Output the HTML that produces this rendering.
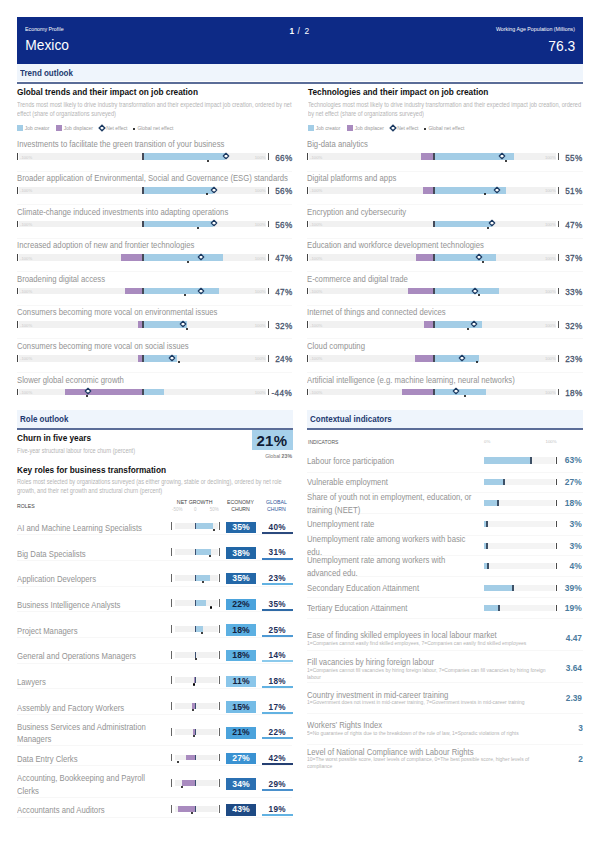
<!DOCTYPE html>
<html><head><meta charset="utf-8"><style>
html,body{margin:0;padding:0;background:#fff;}
body{width:600px;height:848px;position:relative;overflow:hidden;font-family:"Liberation Sans",sans-serif;}
body>div,body>svg{position:absolute;}
.t{white-space:nowrap;line-height:normal;}
</style></head><body>
<div style="left:17.00px;top:170.68px;width:275.00px;height:1.00px;background:#f7f7f7;"></div>
<div style="left:307.00px;top:170.68px;width:276.00px;height:1.00px;background:#f7f7f7;"></div>
<div style="left:17.00px;top:204.21px;width:275.00px;height:1.00px;background:#f7f7f7;"></div>
<div style="left:307.00px;top:204.21px;width:276.00px;height:1.00px;background:#f7f7f7;"></div>
<div style="left:17.00px;top:237.74px;width:275.00px;height:1.00px;background:#f7f7f7;"></div>
<div style="left:307.00px;top:237.74px;width:276.00px;height:1.00px;background:#f7f7f7;"></div>
<div style="left:17.00px;top:271.27px;width:275.00px;height:1.00px;background:#f7f7f7;"></div>
<div style="left:307.00px;top:271.27px;width:276.00px;height:1.00px;background:#f7f7f7;"></div>
<div style="left:17.00px;top:304.80px;width:275.00px;height:1.00px;background:#f7f7f7;"></div>
<div style="left:307.00px;top:304.80px;width:276.00px;height:1.00px;background:#f7f7f7;"></div>
<div style="left:17.00px;top:338.33px;width:275.00px;height:1.00px;background:#f7f7f7;"></div>
<div style="left:307.00px;top:338.33px;width:276.00px;height:1.00px;background:#f7f7f7;"></div>
<div style="left:17.00px;top:371.86px;width:275.00px;height:1.00px;background:#f7f7f7;"></div>
<div style="left:307.00px;top:371.86px;width:276.00px;height:1.00px;background:#f7f7f7;"></div>
<div style="left:17.00px;top:534.20px;width:275.00px;height:1.00px;background:#f7f7f7;"></div>
<div style="left:17.00px;top:559.88px;width:275.00px;height:1.00px;background:#f7f7f7;"></div>
<div style="left:17.00px;top:585.56px;width:275.00px;height:1.00px;background:#f7f7f7;"></div>
<div style="left:17.00px;top:611.24px;width:275.00px;height:1.00px;background:#f7f7f7;"></div>
<div style="left:17.00px;top:636.92px;width:275.00px;height:1.00px;background:#f7f7f7;"></div>
<div style="left:17.00px;top:662.60px;width:275.00px;height:1.00px;background:#f7f7f7;"></div>
<div style="left:17.00px;top:688.28px;width:275.00px;height:1.00px;background:#f7f7f7;"></div>
<div style="left:17.00px;top:713.96px;width:275.00px;height:1.00px;background:#f7f7f7;"></div>
<div style="left:17.00px;top:745.44px;width:275.00px;height:1.00px;background:#f7f7f7;"></div>
<div style="left:17.00px;top:765.32px;width:275.00px;height:1.00px;background:#f7f7f7;"></div>
<div style="left:17.00px;top:796.80px;width:275.00px;height:1.00px;background:#f7f7f7;"></div>
<div style="left:17.00px;top:816.68px;width:275.00px;height:1.00px;background:#f7f7f7;"></div>
<div style="left:307.00px;top:471.80px;width:276.00px;height:1.00px;background:#f7f7f7;"></div>
<div style="left:307.00px;top:492.00px;width:276.00px;height:1.00px;background:#f7f7f7;"></div>
<div style="left:307.00px;top:513.20px;width:276.00px;height:1.00px;background:#f7f7f7;"></div>
<div style="left:307.00px;top:534.50px;width:276.00px;height:1.00px;background:#f7f7f7;"></div>
<div style="left:307.00px;top:555.00px;width:276.00px;height:1.00px;background:#f7f7f7;"></div>
<div style="left:307.00px;top:576.00px;width:276.00px;height:1.00px;background:#f7f7f7;"></div>
<div style="left:307.00px;top:596.50px;width:276.00px;height:1.00px;background:#f7f7f7;"></div>
<div style="left:307.00px;top:617.50px;width:276.00px;height:1.00px;background:#f7f7f7;"></div>
<div style="left:307.00px;top:650.00px;width:276.00px;height:1.00px;background:#f7f7f7;"></div>
<div style="left:307.00px;top:682.40px;width:276.00px;height:1.00px;background:#f7f7f7;"></div>
<div style="left:307.00px;top:713.00px;width:276.00px;height:1.00px;background:#f7f7f7;"></div>
<div style="left:307.00px;top:743.50px;width:276.00px;height:1.00px;background:#f7f7f7;"></div>
<div style="left:17.00px;top:17.00px;width:566.00px;height:47.00px;background:#0d2a86;"></div>
<div class="t" style="left:25.00px;top:25.62px;font-size:5.83px;color:#fff;font-weight:400;transform:scaleX(0.9091);transform-origin:0 0;">Economy Profile</div>
<div class="t" style="left:289.60px;top:26.40px;font-size:8.4px;color:#fff;font-weight:700;">1</div>
<div class="t" style="left:297.40px;top:26.40px;font-size:8.4px;color:#fff;font-weight:400;">/</div>
<div class="t" style="left:304.40px;top:26.40px;font-size:8.4px;color:#fff;font-weight:400;">2</div>
<div class="t" style="right:24.70px;top:25.52px;font-size:5.83px;color:#fff;font-weight:400;transform:scaleX(0.9091);transform-origin:100% 0;">Working Age Population (Millions)</div>
<div class="t" style="left:25.30px;top:38.41px;font-size:13.8px;color:#fff;font-weight:400;">Mexico</div>
<div class="t" style="right:24.70px;top:38.02px;font-size:13.9px;color:#fff;font-weight:400;">76.3</div>
<div style="left:17.00px;top:64.00px;width:566.00px;height:17.00px;background:#eff5fc;"></div>
<div style="left:17.00px;top:82.00px;width:566.00px;height:1.80px;background:#5b6d98;"></div>
<div class="t" style="left:19.90px;top:68.09px;font-size:8.96px;color:#233a70;font-weight:700;transform:scaleX(0.8929);transform-origin:0 0;">Trend outlook</div>
<div class="t" style="left:17.00px;top:88.21px;font-size:8.28px;color:#111;font-weight:700;">Global trends and their impact on job creation</div>
<div class="t" style="left:17.00px;top:101.41px;font-size:6.396px;color:#b5b5b5;font-weight:400;transform:scaleX(0.8850);transform-origin:0 0;">Trends most most likely to drive industry transformation and their expected impact job creation, ordered by net</div>
<div class="t" style="left:17.00px;top:110.21px;font-size:6.396px;color:#b5b5b5;font-weight:400;transform:scaleX(0.8850);transform-origin:0 0;">effect (share of organizations surveyed)</div>
<div style="left:17.00px;top:125.00px;width:6.00px;height:6.10px;background:#a3cde6;"></div>
<div class="t" style="left:24.80px;top:126.12px;font-size:4.95px;color:#9a9a9a;font-weight:400;">Job creator</div>
<div style="left:56.00px;top:125.00px;width:6.00px;height:6.10px;background:#a98bbf;"></div>
<div class="t" style="left:63.80px;top:126.12px;font-size:4.95px;color:#9a9a9a;font-weight:400;">Job displacer</div>
<svg style="position:absolute;left:97.20px;top:123.20px" width="10" height="10"><path d="M5 2.2L7.8 5L5 7.8L2.2 5Z" fill="#fff" stroke="#1c3a62" stroke-width="1.4"/></svg>
<div class="t" style="left:106.30px;top:126.12px;font-size:4.95px;color:#9a9a9a;font-weight:400;">Net effect</div>
<div style="left:133.00px;top:128px;width:1.8px;height:1.8px;border-radius:50%;background:#000"></div>
<div class="t" style="left:137.40px;top:126.12px;font-size:4.95px;color:#9a9a9a;font-weight:400;">Global net effect</div>
<div class="t" style="left:308.00px;top:88.21px;font-size:8.28px;color:#111;font-weight:700;">Technologies and their impact on job creation</div>
<div class="t" style="left:308.00px;top:101.41px;font-size:6.396px;color:#b5b5b5;font-weight:400;transform:scaleX(0.8850);transform-origin:0 0;">Technologies most most likely to drive industry transformation and their expected impact job creation, ordered</div>
<div class="t" style="left:308.00px;top:110.21px;font-size:6.396px;color:#b5b5b5;font-weight:400;transform:scaleX(0.8850);transform-origin:0 0;">by net effect (share of organizations surveyed)</div>
<div style="left:308.00px;top:125.00px;width:6.00px;height:6.10px;background:#a3cde6;"></div>
<div class="t" style="left:315.80px;top:126.12px;font-size:4.95px;color:#9a9a9a;font-weight:400;">Job creator</div>
<div style="left:347.00px;top:125.00px;width:6.00px;height:6.10px;background:#a98bbf;"></div>
<div class="t" style="left:354.80px;top:126.12px;font-size:4.95px;color:#9a9a9a;font-weight:400;">Job displacer</div>
<svg style="position:absolute;left:388.20px;top:123.20px" width="10" height="10"><path d="M5 2.2L7.8 5L5 7.8L2.2 5Z" fill="#fff" stroke="#1c3a62" stroke-width="1.4"/></svg>
<div class="t" style="left:397.30px;top:126.12px;font-size:4.95px;color:#9a9a9a;font-weight:400;">Net effect</div>
<div style="left:424.00px;top:128px;width:1.8px;height:1.8px;border-radius:50%;background:#000"></div>
<div class="t" style="left:428.40px;top:126.12px;font-size:4.95px;color:#9a9a9a;font-weight:400;">Global net effect</div>
<div class="t" style="left:17.20px;top:139.44px;font-size:8.8px;color:#939393;font-weight:400;transform:scaleX(0.878);transform-origin:0 0;">Investments to facilitate the green transition of your business</div>
<div style="left:19.20px;top:153.35px;width:246.50px;height:6.65px;background:#f1f1f1;"></div>
<div class="t" style="left:20.00px;top:154.75px;font-size:4.2px;color:#cbcbcb;font-weight:400;">-100%</div>
<div class="t" style="right:334.50px;top:154.75px;font-size:4.2px;color:#cbcbcb;font-weight:400;">100%</div>
<div style="left:16.80px;top:153.35px;width:1.50px;height:6.65px;background:#444;"></div>
<div style="left:267.70px;top:153.35px;width:1.10px;height:6.65px;background:#555;"></div>
<div style="left:142.60px;top:153.35px;width:82.90px;height:6.65px;background:#a3cde6;"></div>
<div style="left:142.00px;top:153.35px;width:2.00px;height:6.65px;background:#454a58;"></div>
<div style="left:206.80px;top:159.80px;width:2.10px;height:2.10px;background:#000;border-radius:50%;"></div>
<svg style="position:absolute;left:220.80px;top:151.27px" width="10" height="10"><path d="M5 2.3L7.7 5L5 7.7L2.3 5Z" fill="#fff" stroke="#1c3a62" stroke-width="1.25" stroke-linejoin="round"/></svg>
<div class="t" style="right:307.90px;top:152.52px;font-size:9.2px;color:#46536c;font-weight:400;transform:scaleX(0.89);transform-origin:100% 0;letter-spacing:0.4px;-webkit-text-stroke:0.3px #46536c;">66%</div>
<div class="t" style="left:17.20px;top:173.02px;font-size:8.8px;color:#939393;font-weight:400;transform:scaleX(0.878);transform-origin:0 0;">Broader application of Environmental, Social and Governance (ESG) standards</div>
<div style="left:19.20px;top:186.95px;width:246.50px;height:6.65px;background:#f1f1f1;"></div>
<div class="t" style="left:20.00px;top:188.35px;font-size:4.2px;color:#cbcbcb;font-weight:400;">-100%</div>
<div class="t" style="right:334.50px;top:188.35px;font-size:4.2px;color:#cbcbcb;font-weight:400;">100%</div>
<div style="left:16.80px;top:186.95px;width:1.50px;height:6.65px;background:#444;"></div>
<div style="left:267.70px;top:186.95px;width:1.10px;height:6.65px;background:#555;"></div>
<div style="left:142.60px;top:186.95px;width:70.60px;height:6.65px;background:#a3cde6;"></div>
<div style="left:142.00px;top:186.95px;width:2.00px;height:6.65px;background:#454a58;"></div>
<div style="left:205.90px;top:193.40px;width:2.10px;height:2.10px;background:#000;border-radius:50%;"></div>
<svg style="position:absolute;left:208.50px;top:184.87px" width="10" height="10"><path d="M5 2.3L7.7 5L5 7.7L2.3 5Z" fill="#fff" stroke="#1c3a62" stroke-width="1.25" stroke-linejoin="round"/></svg>
<div class="t" style="right:307.90px;top:186.12px;font-size:9.2px;color:#46536c;font-weight:400;transform:scaleX(0.89);transform-origin:100% 0;letter-spacing:0.4px;-webkit-text-stroke:0.3px #46536c;">56%</div>
<div class="t" style="left:17.20px;top:206.60px;font-size:8.8px;color:#939393;font-weight:400;transform:scaleX(0.878);transform-origin:0 0;">Climate-change induced investments into adapting operations</div>
<div style="left:19.20px;top:220.55px;width:246.50px;height:6.65px;background:#f1f1f1;"></div>
<div class="t" style="left:20.00px;top:221.95px;font-size:4.2px;color:#cbcbcb;font-weight:400;">-100%</div>
<div class="t" style="right:334.50px;top:221.95px;font-size:4.2px;color:#cbcbcb;font-weight:400;">100%</div>
<div style="left:16.80px;top:220.55px;width:1.50px;height:6.65px;background:#444;"></div>
<div style="left:267.70px;top:220.55px;width:1.10px;height:6.65px;background:#555;"></div>
<div style="left:142.60px;top:220.55px;width:70.60px;height:6.65px;background:#a3cde6;"></div>
<div style="left:142.00px;top:220.55px;width:2.00px;height:6.65px;background:#454a58;"></div>
<div style="left:196.50px;top:227.00px;width:2.10px;height:2.10px;background:#000;border-radius:50%;"></div>
<svg style="position:absolute;left:208.50px;top:218.47px" width="10" height="10"><path d="M5 2.3L7.7 5L5 7.7L2.3 5Z" fill="#fff" stroke="#1c3a62" stroke-width="1.25" stroke-linejoin="round"/></svg>
<div class="t" style="right:307.90px;top:219.72px;font-size:9.2px;color:#46536c;font-weight:400;transform:scaleX(0.89);transform-origin:100% 0;letter-spacing:0.4px;-webkit-text-stroke:0.3px #46536c;">56%</div>
<div class="t" style="left:17.20px;top:240.18px;font-size:8.8px;color:#939393;font-weight:400;transform:scaleX(0.878);transform-origin:0 0;">Increased adoption of new and frontier technologies</div>
<div style="left:19.20px;top:254.15px;width:246.50px;height:6.65px;background:#f1f1f1;"></div>
<div class="t" style="left:20.00px;top:255.55px;font-size:4.2px;color:#cbcbcb;font-weight:400;">-100%</div>
<div class="t" style="right:334.50px;top:255.55px;font-size:4.2px;color:#cbcbcb;font-weight:400;">100%</div>
<div style="left:16.80px;top:254.15px;width:1.50px;height:6.65px;background:#444;"></div>
<div style="left:267.70px;top:254.15px;width:1.10px;height:6.65px;background:#555;"></div>
<div style="left:121.00px;top:254.15px;width:21.60px;height:6.65px;background:#a98bbf;"></div>
<div style="left:142.60px;top:254.15px;width:80.60px;height:6.65px;background:#a3cde6;"></div>
<div style="left:142.00px;top:254.15px;width:2.00px;height:6.65px;background:#454a58;"></div>
<div style="left:187.20px;top:260.60px;width:2.10px;height:2.10px;background:#000;border-radius:50%;"></div>
<svg style="position:absolute;left:196.30px;top:252.08px" width="10" height="10"><path d="M5 2.3L7.7 5L5 7.7L2.3 5Z" fill="#fff" stroke="#1c3a62" stroke-width="1.25" stroke-linejoin="round"/></svg>
<div class="t" style="right:307.90px;top:253.32px;font-size:9.2px;color:#46536c;font-weight:400;transform:scaleX(0.89);transform-origin:100% 0;letter-spacing:0.4px;-webkit-text-stroke:0.3px #46536c;">47%</div>
<div class="t" style="left:17.20px;top:273.76px;font-size:8.8px;color:#939393;font-weight:400;transform:scaleX(0.878);transform-origin:0 0;">Broadening digital access</div>
<div style="left:19.20px;top:287.75px;width:246.50px;height:6.65px;background:#f1f1f1;"></div>
<div class="t" style="left:20.00px;top:289.15px;font-size:4.2px;color:#cbcbcb;font-weight:400;">-100%</div>
<div class="t" style="right:334.50px;top:289.15px;font-size:4.2px;color:#cbcbcb;font-weight:400;">100%</div>
<div style="left:16.80px;top:287.75px;width:1.50px;height:6.65px;background:#444;"></div>
<div style="left:267.70px;top:287.75px;width:1.10px;height:6.65px;background:#555;"></div>
<div style="left:124.50px;top:287.75px;width:18.10px;height:6.65px;background:#a98bbf;"></div>
<div style="left:142.60px;top:287.75px;width:76.90px;height:6.65px;background:#a3cde6;"></div>
<div style="left:142.00px;top:287.75px;width:2.00px;height:6.65px;background:#454a58;"></div>
<div style="left:184.20px;top:294.20px;width:2.10px;height:2.10px;background:#000;border-radius:50%;"></div>
<svg style="position:absolute;left:196.30px;top:285.68px" width="10" height="10"><path d="M5 2.3L7.7 5L5 7.7L2.3 5Z" fill="#fff" stroke="#1c3a62" stroke-width="1.25" stroke-linejoin="round"/></svg>
<div class="t" style="right:307.90px;top:286.92px;font-size:9.2px;color:#46536c;font-weight:400;transform:scaleX(0.89);transform-origin:100% 0;letter-spacing:0.4px;-webkit-text-stroke:0.3px #46536c;">47%</div>
<div class="t" style="left:17.20px;top:307.34px;font-size:8.8px;color:#939393;font-weight:400;transform:scaleX(0.878);transform-origin:0 0;">Consumers becoming more vocal on environmental issues</div>
<div style="left:19.20px;top:321.35px;width:246.50px;height:6.65px;background:#f1f1f1;"></div>
<div class="t" style="left:20.00px;top:322.75px;font-size:4.2px;color:#cbcbcb;font-weight:400;">-100%</div>
<div class="t" style="right:334.50px;top:322.75px;font-size:4.2px;color:#cbcbcb;font-weight:400;">100%</div>
<div style="left:16.80px;top:321.35px;width:1.50px;height:6.65px;background:#444;"></div>
<div style="left:267.70px;top:321.35px;width:1.10px;height:6.65px;background:#555;"></div>
<div style="left:138.00px;top:321.35px;width:4.60px;height:6.65px;background:#a98bbf;"></div>
<div style="left:142.60px;top:321.35px;width:44.70px;height:6.65px;background:#a3cde6;"></div>
<div style="left:142.00px;top:321.35px;width:2.00px;height:6.65px;background:#454a58;"></div>
<div style="left:185.70px;top:327.80px;width:2.10px;height:2.10px;background:#000;border-radius:50%;"></div>
<svg style="position:absolute;left:178.00px;top:319.28px" width="10" height="10"><path d="M5 2.3L7.7 5L5 7.7L2.3 5Z" fill="#fff" stroke="#1c3a62" stroke-width="1.25" stroke-linejoin="round"/></svg>
<div class="t" style="right:307.90px;top:320.52px;font-size:9.2px;color:#46536c;font-weight:400;transform:scaleX(0.89);transform-origin:100% 0;letter-spacing:0.4px;-webkit-text-stroke:0.3px #46536c;">32%</div>
<div class="t" style="left:17.20px;top:340.92px;font-size:8.8px;color:#939393;font-weight:400;transform:scaleX(0.878);transform-origin:0 0;">Consumers becoming more vocal on social issues</div>
<div style="left:19.20px;top:354.95px;width:246.50px;height:6.65px;background:#f1f1f1;"></div>
<div class="t" style="left:20.00px;top:356.35px;font-size:4.2px;color:#cbcbcb;font-weight:400;">-100%</div>
<div class="t" style="right:334.50px;top:356.35px;font-size:4.2px;color:#cbcbcb;font-weight:400;">100%</div>
<div style="left:16.80px;top:354.95px;width:1.50px;height:6.65px;background:#444;"></div>
<div style="left:267.70px;top:354.95px;width:1.10px;height:6.65px;background:#555;"></div>
<div style="left:137.60px;top:354.95px;width:5.00px;height:6.65px;background:#a98bbf;"></div>
<div style="left:142.60px;top:354.95px;width:34.10px;height:6.65px;background:#a3cde6;"></div>
<div style="left:142.00px;top:354.95px;width:2.00px;height:6.65px;background:#454a58;"></div>
<div style="left:177.70px;top:361.40px;width:2.10px;height:2.10px;background:#000;border-radius:50%;"></div>
<svg style="position:absolute;left:167.30px;top:352.88px" width="10" height="10"><path d="M5 2.3L7.7 5L5 7.7L2.3 5Z" fill="#fff" stroke="#1c3a62" stroke-width="1.25" stroke-linejoin="round"/></svg>
<div class="t" style="right:307.90px;top:354.12px;font-size:9.2px;color:#46536c;font-weight:400;transform:scaleX(0.89);transform-origin:100% 0;letter-spacing:0.4px;-webkit-text-stroke:0.3px #46536c;">24%</div>
<div class="t" style="left:17.20px;top:374.50px;font-size:8.8px;color:#939393;font-weight:400;transform:scaleX(0.878);transform-origin:0 0;">Slower global economic growth</div>
<div style="left:19.20px;top:388.55px;width:246.50px;height:6.65px;background:#f1f1f1;"></div>
<div class="t" style="left:20.00px;top:389.95px;font-size:4.2px;color:#cbcbcb;font-weight:400;">-100%</div>
<div class="t" style="right:334.50px;top:389.95px;font-size:4.2px;color:#cbcbcb;font-weight:400;">100%</div>
<div style="left:16.80px;top:388.55px;width:1.50px;height:6.65px;background:#444;"></div>
<div style="left:267.70px;top:388.55px;width:1.10px;height:6.65px;background:#555;"></div>
<div style="left:65.20px;top:388.55px;width:77.40px;height:6.65px;background:#a98bbf;"></div>
<div style="left:142.60px;top:388.55px;width:21.80px;height:6.65px;background:#a3cde6;"></div>
<div style="left:142.00px;top:388.55px;width:2.00px;height:6.65px;background:#454a58;"></div>
<div style="left:86.30px;top:395.00px;width:2.10px;height:2.10px;background:#000;border-radius:50%;"></div>
<svg style="position:absolute;left:82.60px;top:386.48px" width="10" height="10"><path d="M5 2.3L7.7 5L5 7.7L2.3 5Z" fill="#fff" stroke="#1c3a62" stroke-width="1.25" stroke-linejoin="round"/></svg>
<div class="t" style="right:307.90px;top:387.72px;font-size:9.2px;color:#46536c;font-weight:400;transform:scaleX(0.89);transform-origin:100% 0;letter-spacing:0.4px;-webkit-text-stroke:0.3px #46536c;">-44%</div>
<div class="t" style="left:307.30px;top:139.44px;font-size:8.8px;color:#939393;font-weight:400;transform:scaleX(0.878);transform-origin:0 0;">Big-data analytics</div>
<div style="left:309.30px;top:153.35px;width:246.50px;height:6.65px;background:#f1f1f1;"></div>
<div class="t" style="left:310.10px;top:154.75px;font-size:4.2px;color:#cbcbcb;font-weight:400;">-100%</div>
<div class="t" style="right:44.40px;top:154.75px;font-size:4.2px;color:#cbcbcb;font-weight:400;">100%</div>
<div style="left:306.90px;top:153.35px;width:1.50px;height:6.65px;background:#444;"></div>
<div style="left:557.80px;top:153.35px;width:1.10px;height:6.65px;background:#555;"></div>
<div style="left:421.00px;top:153.35px;width:12.20px;height:6.65px;background:#a98bbf;"></div>
<div style="left:433.20px;top:153.35px;width:80.40px;height:6.65px;background:#a3cde6;"></div>
<div style="left:432.60px;top:153.35px;width:2.00px;height:6.65px;background:#454a58;"></div>
<div style="left:505.20px;top:159.80px;width:2.10px;height:2.10px;background:#000;border-radius:50%;"></div>
<svg style="position:absolute;left:496.80px;top:151.27px" width="10" height="10"><path d="M5 2.3L7.7 5L5 7.7L2.3 5Z" fill="#fff" stroke="#1c3a62" stroke-width="1.25" stroke-linejoin="round"/></svg>
<div class="t" style="right:17.10px;top:152.52px;font-size:9.2px;color:#46536c;font-weight:400;transform:scaleX(0.89);transform-origin:100% 0;letter-spacing:0.4px;-webkit-text-stroke:0.3px #46536c;">55%</div>
<div class="t" style="left:307.30px;top:173.02px;font-size:8.8px;color:#939393;font-weight:400;transform:scaleX(0.878);transform-origin:0 0;">Digital platforms and apps</div>
<div style="left:309.30px;top:186.95px;width:246.50px;height:6.65px;background:#f1f1f1;"></div>
<div class="t" style="left:310.10px;top:188.35px;font-size:4.2px;color:#cbcbcb;font-weight:400;">-100%</div>
<div class="t" style="right:44.40px;top:188.35px;font-size:4.2px;color:#cbcbcb;font-weight:400;">100%</div>
<div style="left:306.90px;top:186.95px;width:1.50px;height:6.65px;background:#444;"></div>
<div style="left:557.80px;top:186.95px;width:1.10px;height:6.65px;background:#555;"></div>
<div style="left:423.30px;top:186.95px;width:9.90px;height:6.65px;background:#a98bbf;"></div>
<div style="left:433.20px;top:186.95px;width:73.00px;height:6.65px;background:#a3cde6;"></div>
<div style="left:432.60px;top:186.95px;width:2.00px;height:6.65px;background:#454a58;"></div>
<div style="left:483.50px;top:193.40px;width:2.10px;height:2.10px;background:#000;border-radius:50%;"></div>
<svg style="position:absolute;left:491.70px;top:184.87px" width="10" height="10"><path d="M5 2.3L7.7 5L5 7.7L2.3 5Z" fill="#fff" stroke="#1c3a62" stroke-width="1.25" stroke-linejoin="round"/></svg>
<div class="t" style="right:17.10px;top:186.12px;font-size:9.2px;color:#46536c;font-weight:400;transform:scaleX(0.89);transform-origin:100% 0;letter-spacing:0.4px;-webkit-text-stroke:0.3px #46536c;">51%</div>
<div class="t" style="left:307.30px;top:206.60px;font-size:8.8px;color:#939393;font-weight:400;transform:scaleX(0.878);transform-origin:0 0;">Encryption and cybersecurity</div>
<div style="left:309.30px;top:220.55px;width:246.50px;height:6.65px;background:#f1f1f1;"></div>
<div class="t" style="left:310.10px;top:221.95px;font-size:4.2px;color:#cbcbcb;font-weight:400;">-100%</div>
<div class="t" style="right:44.40px;top:221.95px;font-size:4.2px;color:#cbcbcb;font-weight:400;">100%</div>
<div style="left:306.90px;top:220.55px;width:1.50px;height:6.65px;background:#444;"></div>
<div style="left:557.80px;top:220.55px;width:1.10px;height:6.65px;background:#555;"></div>
<div style="left:433.20px;top:220.55px;width:58.50px;height:6.65px;background:#a3cde6;"></div>
<div style="left:432.60px;top:220.55px;width:2.00px;height:6.65px;background:#454a58;"></div>
<div style="left:486.50px;top:227.00px;width:2.10px;height:2.10px;background:#000;border-radius:50%;"></div>
<svg style="position:absolute;left:487.00px;top:218.47px" width="10" height="10"><path d="M5 2.3L7.7 5L5 7.7L2.3 5Z" fill="#fff" stroke="#1c3a62" stroke-width="1.25" stroke-linejoin="round"/></svg>
<div class="t" style="right:17.10px;top:219.72px;font-size:9.2px;color:#46536c;font-weight:400;transform:scaleX(0.89);transform-origin:100% 0;letter-spacing:0.4px;-webkit-text-stroke:0.3px #46536c;">47%</div>
<div class="t" style="left:307.30px;top:240.18px;font-size:8.8px;color:#939393;font-weight:400;transform:scaleX(0.878);transform-origin:0 0;">Education and workforce development technologies</div>
<div style="left:309.30px;top:254.15px;width:246.50px;height:6.65px;background:#f1f1f1;"></div>
<div class="t" style="left:310.10px;top:255.55px;font-size:4.2px;color:#cbcbcb;font-weight:400;">-100%</div>
<div class="t" style="right:44.40px;top:255.55px;font-size:4.2px;color:#cbcbcb;font-weight:400;">100%</div>
<div style="left:306.90px;top:254.15px;width:1.50px;height:6.65px;background:#444;"></div>
<div style="left:557.80px;top:254.15px;width:1.10px;height:6.65px;background:#555;"></div>
<div style="left:415.90px;top:254.15px;width:17.30px;height:6.65px;background:#a98bbf;"></div>
<div style="left:433.20px;top:254.15px;width:62.90px;height:6.65px;background:#a3cde6;"></div>
<div style="left:432.60px;top:254.15px;width:2.00px;height:6.65px;background:#454a58;"></div>
<div style="left:481.80px;top:260.60px;width:2.10px;height:2.10px;background:#000;border-radius:50%;"></div>
<svg style="position:absolute;left:474.20px;top:252.08px" width="10" height="10"><path d="M5 2.3L7.7 5L5 7.7L2.3 5Z" fill="#fff" stroke="#1c3a62" stroke-width="1.25" stroke-linejoin="round"/></svg>
<div class="t" style="right:17.10px;top:253.32px;font-size:9.2px;color:#46536c;font-weight:400;transform:scaleX(0.89);transform-origin:100% 0;letter-spacing:0.4px;-webkit-text-stroke:0.3px #46536c;">37%</div>
<div class="t" style="left:307.30px;top:273.76px;font-size:8.8px;color:#939393;font-weight:400;transform:scaleX(0.878);transform-origin:0 0;">E-commerce and digital trade</div>
<div style="left:309.30px;top:287.75px;width:246.50px;height:6.65px;background:#f1f1f1;"></div>
<div class="t" style="left:310.10px;top:289.15px;font-size:4.2px;color:#cbcbcb;font-weight:400;">-100%</div>
<div class="t" style="right:44.40px;top:289.15px;font-size:4.2px;color:#cbcbcb;font-weight:400;">100%</div>
<div style="left:306.90px;top:287.75px;width:1.50px;height:6.65px;background:#444;"></div>
<div style="left:557.80px;top:287.75px;width:1.10px;height:6.65px;background:#555;"></div>
<div style="left:408.20px;top:287.75px;width:25.00px;height:6.65px;background:#a98bbf;"></div>
<div style="left:433.20px;top:287.75px;width:66.00px;height:6.65px;background:#a3cde6;"></div>
<div style="left:432.60px;top:287.75px;width:2.00px;height:6.65px;background:#454a58;"></div>
<div style="left:477.90px;top:294.20px;width:2.10px;height:2.10px;background:#000;border-radius:50%;"></div>
<svg style="position:absolute;left:469.50px;top:285.68px" width="10" height="10"><path d="M5 2.3L7.7 5L5 7.7L2.3 5Z" fill="#fff" stroke="#1c3a62" stroke-width="1.25" stroke-linejoin="round"/></svg>
<div class="t" style="right:17.10px;top:286.92px;font-size:9.2px;color:#46536c;font-weight:400;transform:scaleX(0.89);transform-origin:100% 0;letter-spacing:0.4px;-webkit-text-stroke:0.3px #46536c;">33%</div>
<div class="t" style="left:307.30px;top:307.34px;font-size:8.8px;color:#939393;font-weight:400;transform:scaleX(0.878);transform-origin:0 0;">Internet of things and connected devices</div>
<div style="left:309.30px;top:321.35px;width:246.50px;height:6.65px;background:#f1f1f1;"></div>
<div class="t" style="left:310.10px;top:322.75px;font-size:4.2px;color:#cbcbcb;font-weight:400;">-100%</div>
<div class="t" style="right:44.40px;top:322.75px;font-size:4.2px;color:#cbcbcb;font-weight:400;">100%</div>
<div style="left:306.90px;top:321.35px;width:1.50px;height:6.65px;background:#444;"></div>
<div style="left:557.80px;top:321.35px;width:1.10px;height:6.65px;background:#555;"></div>
<div style="left:424.00px;top:321.35px;width:9.20px;height:6.65px;background:#a98bbf;"></div>
<div style="left:433.20px;top:321.35px;width:48.90px;height:6.65px;background:#a3cde6;"></div>
<div style="left:432.60px;top:321.35px;width:2.00px;height:6.65px;background:#454a58;"></div>
<div style="left:467.10px;top:327.80px;width:2.10px;height:2.10px;background:#000;border-radius:50%;"></div>
<svg style="position:absolute;left:468.80px;top:319.28px" width="10" height="10"><path d="M5 2.3L7.7 5L5 7.7L2.3 5Z" fill="#fff" stroke="#1c3a62" stroke-width="1.25" stroke-linejoin="round"/></svg>
<div class="t" style="right:17.10px;top:320.52px;font-size:9.2px;color:#46536c;font-weight:400;transform:scaleX(0.89);transform-origin:100% 0;letter-spacing:0.4px;-webkit-text-stroke:0.3px #46536c;">32%</div>
<div class="t" style="left:307.30px;top:340.92px;font-size:8.8px;color:#939393;font-weight:400;transform:scaleX(0.878);transform-origin:0 0;">Cloud computing</div>
<div style="left:309.30px;top:354.95px;width:246.50px;height:6.65px;background:#f1f1f1;"></div>
<div class="t" style="left:310.10px;top:356.35px;font-size:4.2px;color:#cbcbcb;font-weight:400;">-100%</div>
<div class="t" style="right:44.40px;top:356.35px;font-size:4.2px;color:#cbcbcb;font-weight:400;">100%</div>
<div style="left:306.90px;top:354.95px;width:1.50px;height:6.65px;background:#444;"></div>
<div style="left:557.80px;top:354.95px;width:1.10px;height:6.65px;background:#555;"></div>
<div style="left:415.20px;top:354.95px;width:18.00px;height:6.65px;background:#a98bbf;"></div>
<div style="left:433.20px;top:354.95px;width:46.20px;height:6.65px;background:#a3cde6;"></div>
<div style="left:432.60px;top:354.95px;width:2.00px;height:6.65px;background:#454a58;"></div>
<div style="left:475.80px;top:361.40px;width:2.10px;height:2.10px;background:#000;border-radius:50%;"></div>
<svg style="position:absolute;left:457.20px;top:352.88px" width="10" height="10"><path d="M5 2.3L7.7 5L5 7.7L2.3 5Z" fill="#fff" stroke="#1c3a62" stroke-width="1.25" stroke-linejoin="round"/></svg>
<div class="t" style="right:17.10px;top:354.12px;font-size:9.2px;color:#46536c;font-weight:400;transform:scaleX(0.89);transform-origin:100% 0;letter-spacing:0.4px;-webkit-text-stroke:0.3px #46536c;">23%</div>
<div class="t" style="left:307.30px;top:374.50px;font-size:8.8px;color:#939393;font-weight:400;transform:scaleX(0.878);transform-origin:0 0;">Artificial intelligence (e.g. machine learning, neural networks)</div>
<div style="left:309.30px;top:388.55px;width:246.50px;height:6.65px;background:#f1f1f1;"></div>
<div class="t" style="left:310.10px;top:389.95px;font-size:4.2px;color:#cbcbcb;font-weight:400;">-100%</div>
<div class="t" style="right:44.40px;top:389.95px;font-size:4.2px;color:#cbcbcb;font-weight:400;">100%</div>
<div style="left:306.90px;top:388.55px;width:1.50px;height:6.65px;background:#444;"></div>
<div style="left:557.80px;top:388.55px;width:1.10px;height:6.65px;background:#555;"></div>
<div style="left:401.70px;top:388.55px;width:31.50px;height:6.65px;background:#a98bbf;"></div>
<div style="left:433.20px;top:388.55px;width:52.90px;height:6.65px;background:#a3cde6;"></div>
<div style="left:432.60px;top:388.55px;width:2.00px;height:6.65px;background:#454a58;"></div>
<div style="left:464.10px;top:395.00px;width:2.10px;height:2.10px;background:#000;border-radius:50%;"></div>
<svg style="position:absolute;left:450.60px;top:386.48px" width="10" height="10"><path d="M5 2.3L7.7 5L5 7.7L2.3 5Z" fill="#fff" stroke="#1c3a62" stroke-width="1.25" stroke-linejoin="round"/></svg>
<div class="t" style="right:17.10px;top:387.72px;font-size:9.2px;color:#46536c;font-weight:400;transform:scaleX(0.89);transform-origin:100% 0;letter-spacing:0.4px;-webkit-text-stroke:0.3px #46536c;">18%</div>
<div style="left:17.00px;top:410.00px;width:275.50px;height:17.50px;background:#eff5fc;"></div>
<div style="left:17.00px;top:428.00px;width:275.50px;height:1.60px;background:#5b6d98;"></div>
<div class="t" style="left:19.90px;top:414.09px;font-size:8.96px;color:#233a70;font-weight:700;transform:scaleX(0.8929);transform-origin:0 0;">Role outlook</div>
<div style="left:307.00px;top:410.00px;width:276.00px;height:17.50px;background:#eff5fc;"></div>
<div style="left:307.00px;top:428.00px;width:276.00px;height:1.60px;background:#5b6d98;"></div>
<div class="t" style="left:310.20px;top:414.09px;font-size:8.96px;color:#233a70;font-weight:700;transform:scaleX(0.8929);transform-origin:0 0;">Contextual indicators</div>
<div class="t" style="left:17.00px;top:433.75px;font-size:8.23px;color:#111;font-weight:700;">Churn in five years</div>
<div class="t" style="left:17.00px;top:447.28px;font-size:6.317px;color:#b5b5b5;font-weight:400;transform:scaleX(0.8850);transform-origin:0 0;">Five-year structural labour force churn (percent)</div>
<div style="left:251.50px;top:429.50px;width:41.00px;height:20.50px;background:#a6d0ea;"></div>
<div class="t" style="left:271.90px;top:431.73px;font-size:15px;color:#0f1b36;font-weight:700;transform:translateX(-50%);transform-origin:0 0;letter-spacing:0.2px;">21%</div>
<div class="t" style="right:308.00px;top:453.09px;font-size:5.2px;color:#777;font-weight:400;">Global <b>23%</b></div>
<div class="t" style="left:17.00px;top:465.73px;font-size:8.25px;color:#111;font-weight:700;">Key roles for business transformation</div>
<div class="t" style="left:17.00px;top:478.03px;font-size:6.373px;color:#b5b5b5;font-weight:400;transform:scaleX(0.8850);transform-origin:0 0;">Roles most selected by organizations surveyed (as either growing, stable or declining), ordered by net role</div>
<div class="t" style="left:17.00px;top:487.43px;font-size:6.373px;color:#b5b5b5;font-weight:400;transform:scaleX(0.8850);transform-origin:0 0;">growth, and their net growth and structural churn (percent)</div>
<div class="t" style="left:17.00px;top:503.29px;font-size:5.2px;color:#444;font-weight:400;">ROLES</div>
<div class="t" style="left:194.70px;top:498.86px;font-size:5.24px;color:#444;font-weight:400;transform:translateX(-50%);transform-origin:0 0;">NET GROWTH</div>
<div class="t" style="left:177.30px;top:506.93px;font-size:4.5px;color:#c8c8c8;font-weight:400;transform:translateX(-50%);transform-origin:0 0;">-50%</div>
<div class="t" style="left:195.30px;top:506.93px;font-size:4.5px;color:#c8c8c8;font-weight:400;transform:translateX(-50%);transform-origin:0 0;">0</div>
<div class="t" style="left:214.20px;top:506.93px;font-size:4.5px;color:#c8c8c8;font-weight:400;transform:translateX(-50%);transform-origin:0 0;">50%</div>
<div class="t" style="left:240.50px;top:498.89px;font-size:5.2px;color:#444;font-weight:400;transform:translateX(-50%);transform-origin:0 0;">ECONOMY</div>
<div class="t" style="left:240.50px;top:506.29px;font-size:5.2px;color:#444;font-weight:400;transform:translateX(-50%);transform-origin:0 0;">CHURN</div>
<div class="t" style="left:276.40px;top:498.89px;font-size:5.2px;color:#2d559a;font-weight:400;transform:translateX(-50%);transform-origin:0 0;">GLOBAL</div>
<div class="t" style="left:276.40px;top:506.29px;font-size:5.2px;color:#2d559a;font-weight:400;transform:translateX(-50%);transform-origin:0 0;">CHURN</div>
<div class="t" style="left:17.00px;top:522.94px;font-size:8.8px;color:#939393;font-weight:400;transform:scaleX(0.878);transform-origin:0 0;">AI and Machine Learning Specialists</div>
<div style="left:174.50px;top:523.40px;width:43.00px;height:5.80px;background:#f1f1f1;"></div>
<div style="left:171.20px;top:522.40px;width:1.10px;height:7.80px;background:#666;"></div>
<div style="left:219.00px;top:522.40px;width:1.10px;height:7.80px;background:#666;"></div>
<div style="left:195.50px;top:523.40px;width:17.70px;height:5.80px;background:#a3cde6;"></div>
<div style="left:194.90px;top:523.40px;width:1.30px;height:5.80px;background:#3a4f70;"></div>
<div style="left:213.40px;top:529.40px;width:2.10px;height:2.10px;background:#000;border-radius:50%;"></div>
<div style="left:226.00px;top:521.50px;width:30.20px;height:11.60px;background:#2468a8;"></div>
<div class="t" style="left:241.10px;top:521.82px;font-size:8.6px;color:#fff;font-weight:700;transform:translateX(-50%);transform-origin:0 0;letter-spacing:0.15px;">35%</div>
<div class="t" style="left:277.20px;top:522.78px;font-size:8.2px;color:#22305a;font-weight:700;transform:translateX(-50%);transform-origin:0 0;letter-spacing:0.25px;">40%</div>
<div style="left:262.00px;top:532.00px;width:30.50px;height:1.90px;background:#2b4a7e;"></div>
<div class="t" style="left:17.00px;top:548.62px;font-size:8.8px;color:#939393;font-weight:400;transform:scaleX(0.878);transform-origin:0 0;">Big Data Specialists</div>
<div style="left:174.50px;top:549.08px;width:43.00px;height:5.80px;background:#f1f1f1;"></div>
<div style="left:171.20px;top:548.08px;width:1.10px;height:7.80px;background:#666;"></div>
<div style="left:219.00px;top:548.08px;width:1.10px;height:7.80px;background:#666;"></div>
<div style="left:195.50px;top:549.08px;width:15.40px;height:5.80px;background:#a3cde6;"></div>
<div style="left:194.90px;top:549.08px;width:1.30px;height:5.80px;background:#3a4f70;"></div>
<div style="left:208.70px;top:555.08px;width:2.10px;height:2.10px;background:#000;border-radius:50%;"></div>
<div style="left:226.00px;top:547.18px;width:30.20px;height:11.60px;background:#2166a6;"></div>
<div class="t" style="left:241.10px;top:547.50px;font-size:8.6px;color:#fff;font-weight:700;transform:translateX(-50%);transform-origin:0 0;letter-spacing:0.15px;">38%</div>
<div class="t" style="left:277.20px;top:548.46px;font-size:8.2px;color:#22305a;font-weight:700;transform:translateX(-50%);transform-origin:0 0;letter-spacing:0.25px;">31%</div>
<div style="left:262.00px;top:557.68px;width:30.50px;height:1.90px;background:#3b7ec0;"></div>
<div class="t" style="left:17.00px;top:574.30px;font-size:8.8px;color:#939393;font-weight:400;transform:scaleX(0.878);transform-origin:0 0;">Application Developers</div>
<div style="left:174.50px;top:574.76px;width:43.00px;height:5.80px;background:#f1f1f1;"></div>
<div style="left:171.20px;top:573.76px;width:1.10px;height:7.80px;background:#666;"></div>
<div style="left:219.00px;top:573.76px;width:1.10px;height:7.80px;background:#666;"></div>
<div style="left:195.50px;top:574.76px;width:14.20px;height:5.80px;background:#a3cde6;"></div>
<div style="left:194.90px;top:574.76px;width:1.30px;height:5.80px;background:#3a4f70;"></div>
<div style="left:201.70px;top:580.76px;width:2.10px;height:2.10px;background:#000;border-radius:50%;"></div>
<div style="left:226.00px;top:572.86px;width:30.20px;height:11.60px;background:#2468a8;"></div>
<div class="t" style="left:241.10px;top:573.18px;font-size:8.6px;color:#fff;font-weight:700;transform:translateX(-50%);transform-origin:0 0;letter-spacing:0.15px;">35%</div>
<div class="t" style="left:277.20px;top:574.14px;font-size:8.2px;color:#22305a;font-weight:700;transform:translateX(-50%);transform-origin:0 0;letter-spacing:0.25px;">23%</div>
<div style="left:262.00px;top:583.36px;width:30.50px;height:1.90px;background:#62b2e2;"></div>
<div class="t" style="left:17.00px;top:599.98px;font-size:8.8px;color:#939393;font-weight:400;transform:scaleX(0.878);transform-origin:0 0;">Business Intelligence Analysts</div>
<div style="left:174.50px;top:600.44px;width:43.00px;height:5.80px;background:#f1f1f1;"></div>
<div style="left:171.20px;top:599.44px;width:1.10px;height:7.80px;background:#666;"></div>
<div style="left:219.00px;top:599.44px;width:1.10px;height:7.80px;background:#666;"></div>
<div style="left:195.50px;top:600.44px;width:10.70px;height:5.80px;background:#a3cde6;"></div>
<div style="left:194.90px;top:600.44px;width:1.30px;height:5.80px;background:#3a4f70;"></div>
<div style="left:209.90px;top:606.44px;width:2.10px;height:2.10px;background:#000;border-radius:50%;"></div>
<div style="left:226.00px;top:598.54px;width:30.20px;height:11.60px;background:#4ba3dc;"></div>
<div class="t" style="left:241.10px;top:598.86px;font-size:8.6px;color:#14213d;font-weight:700;transform:translateX(-50%);transform-origin:0 0;letter-spacing:0.15px;">22%</div>
<div class="t" style="left:277.20px;top:599.82px;font-size:8.2px;color:#22305a;font-weight:700;transform:translateX(-50%);transform-origin:0 0;letter-spacing:0.25px;">35%</div>
<div style="left:262.00px;top:609.04px;width:30.50px;height:1.90px;background:#2f6aa6;"></div>
<div class="t" style="left:17.00px;top:625.66px;font-size:8.8px;color:#939393;font-weight:400;transform:scaleX(0.878);transform-origin:0 0;">Project Managers</div>
<div style="left:174.50px;top:626.12px;width:43.00px;height:5.80px;background:#f1f1f1;"></div>
<div style="left:171.20px;top:625.12px;width:1.10px;height:7.80px;background:#666;"></div>
<div style="left:219.00px;top:625.12px;width:1.10px;height:7.80px;background:#666;"></div>
<div style="left:195.50px;top:626.12px;width:7.20px;height:5.80px;background:#a3cde6;"></div>
<div style="left:194.90px;top:626.12px;width:1.30px;height:5.80px;background:#3a4f70;"></div>
<div style="left:201.00px;top:632.12px;width:2.10px;height:2.10px;background:#000;border-radius:50%;"></div>
<div style="left:226.00px;top:624.22px;width:30.20px;height:11.60px;background:#5cb0e2;"></div>
<div class="t" style="left:241.10px;top:624.54px;font-size:8.6px;color:#14213d;font-weight:700;transform:translateX(-50%);transform-origin:0 0;letter-spacing:0.15px;">18%</div>
<div class="t" style="left:277.20px;top:625.50px;font-size:8.2px;color:#22305a;font-weight:700;transform:translateX(-50%);transform-origin:0 0;letter-spacing:0.25px;">25%</div>
<div style="left:262.00px;top:634.72px;width:30.50px;height:1.90px;background:#4f9ad4;"></div>
<div class="t" style="left:17.00px;top:651.34px;font-size:8.8px;color:#939393;font-weight:400;transform:scaleX(0.878);transform-origin:0 0;">General and Operations Managers</div>
<div style="left:174.50px;top:651.80px;width:43.00px;height:5.80px;background:#f1f1f1;"></div>
<div style="left:171.20px;top:650.80px;width:1.10px;height:7.80px;background:#666;"></div>
<div style="left:219.00px;top:650.80px;width:1.10px;height:7.80px;background:#666;"></div>
<div style="left:194.90px;top:651.80px;width:1.30px;height:5.80px;background:#3a4f70;"></div>
<div style="left:194.50px;top:657.80px;width:2.10px;height:2.10px;background:#000;border-radius:50%;"></div>
<div style="left:226.00px;top:649.90px;width:30.20px;height:11.60px;background:#5cb0e2;"></div>
<div class="t" style="left:241.10px;top:650.22px;font-size:8.6px;color:#14213d;font-weight:700;transform:translateX(-50%);transform-origin:0 0;letter-spacing:0.15px;">18%</div>
<div class="t" style="left:277.20px;top:651.18px;font-size:8.2px;color:#22305a;font-weight:700;transform:translateX(-50%);transform-origin:0 0;letter-spacing:0.25px;">14%</div>
<div style="left:262.00px;top:660.40px;width:30.50px;height:1.90px;background:#8ccaec;"></div>
<div class="t" style="left:17.00px;top:677.02px;font-size:8.8px;color:#939393;font-weight:400;transform:scaleX(0.878);transform-origin:0 0;">Lawyers</div>
<div style="left:174.50px;top:677.48px;width:43.00px;height:5.80px;background:#f1f1f1;"></div>
<div style="left:171.20px;top:676.48px;width:1.10px;height:7.80px;background:#666;"></div>
<div style="left:219.00px;top:676.48px;width:1.10px;height:7.80px;background:#666;"></div>
<div style="left:193.80px;top:677.48px;width:1.70px;height:5.80px;background:#a98bbf;"></div>
<div style="left:194.90px;top:677.48px;width:1.30px;height:5.80px;background:#3a4f70;"></div>
<div style="left:193.30px;top:683.48px;width:2.10px;height:2.10px;background:#000;border-radius:50%;"></div>
<div style="left:226.00px;top:675.58px;width:30.20px;height:11.60px;background:#8ac6ea;"></div>
<div class="t" style="left:241.10px;top:675.90px;font-size:8.6px;color:#14213d;font-weight:700;transform:translateX(-50%);transform-origin:0 0;letter-spacing:0.15px;">11%</div>
<div class="t" style="left:277.20px;top:676.86px;font-size:8.2px;color:#22305a;font-weight:700;transform:translateX(-50%);transform-origin:0 0;letter-spacing:0.25px;">18%</div>
<div style="left:262.00px;top:686.08px;width:30.50px;height:1.90px;background:#62b2e2;"></div>
<div class="t" style="left:17.00px;top:702.70px;font-size:8.8px;color:#939393;font-weight:400;transform:scaleX(0.878);transform-origin:0 0;">Assembly and Factory Workers</div>
<div style="left:174.50px;top:703.16px;width:43.00px;height:5.80px;background:#f1f1f1;"></div>
<div style="left:171.20px;top:702.16px;width:1.10px;height:7.80px;background:#666;"></div>
<div style="left:219.00px;top:702.16px;width:1.10px;height:7.80px;background:#666;"></div>
<div style="left:192.20px;top:703.16px;width:3.30px;height:5.80px;background:#a98bbf;"></div>
<div style="left:194.90px;top:703.16px;width:1.30px;height:5.80px;background:#3a4f70;"></div>
<div style="left:191.70px;top:709.16px;width:2.10px;height:2.10px;background:#000;border-radius:50%;"></div>
<div style="left:226.00px;top:701.26px;width:30.20px;height:11.60px;background:#75bce6;"></div>
<div class="t" style="left:241.10px;top:701.58px;font-size:8.6px;color:#14213d;font-weight:700;transform:translateX(-50%);transform-origin:0 0;letter-spacing:0.15px;">15%</div>
<div class="t" style="left:277.20px;top:702.54px;font-size:8.2px;color:#22305a;font-weight:700;transform:translateX(-50%);transform-origin:0 0;letter-spacing:0.25px;">17%</div>
<div style="left:262.00px;top:711.76px;width:30.50px;height:1.90px;background:#62b2e2;"></div>
<div class="t" style="left:17.00px;top:722.08px;font-size:8.8px;color:#939393;font-weight:400;transform:scaleX(0.878);transform-origin:0 0;">Business Services and Administration</div>
<div class="t" style="left:17.00px;top:734.38px;font-size:8.8px;color:#939393;font-weight:400;transform:scaleX(0.878);transform-origin:0 0;">Managers</div>
<div style="left:174.50px;top:728.84px;width:43.00px;height:5.80px;background:#f1f1f1;"></div>
<div style="left:171.20px;top:727.84px;width:1.10px;height:7.80px;background:#666;"></div>
<div style="left:219.00px;top:727.84px;width:1.10px;height:7.80px;background:#666;"></div>
<div style="left:193.00px;top:728.84px;width:2.50px;height:5.80px;background:#a98bbf;"></div>
<div style="left:194.90px;top:728.84px;width:1.30px;height:5.80px;background:#3a4f70;"></div>
<div style="left:192.50px;top:734.84px;width:2.10px;height:2.10px;background:#000;border-radius:50%;"></div>
<div style="left:226.00px;top:726.94px;width:30.20px;height:11.60px;background:#4ba3dc;"></div>
<div class="t" style="left:241.10px;top:727.26px;font-size:8.6px;color:#14213d;font-weight:700;transform:translateX(-50%);transform-origin:0 0;letter-spacing:0.15px;">21%</div>
<div class="t" style="left:277.20px;top:728.22px;font-size:8.2px;color:#22305a;font-weight:700;transform:translateX(-50%);transform-origin:0 0;letter-spacing:0.25px;">22%</div>
<div style="left:262.00px;top:737.44px;width:30.50px;height:1.90px;background:#5aa8dc;"></div>
<div class="t" style="left:17.00px;top:754.06px;font-size:8.8px;color:#939393;font-weight:400;transform:scaleX(0.878);transform-origin:0 0;">Data Entry Clerks</div>
<div style="left:174.50px;top:754.52px;width:43.00px;height:5.80px;background:#f1f1f1;"></div>
<div style="left:171.20px;top:753.52px;width:1.10px;height:7.80px;background:#666;"></div>
<div style="left:219.00px;top:753.52px;width:1.10px;height:7.80px;background:#666;"></div>
<div style="left:185.70px;top:754.52px;width:9.80px;height:5.80px;background:#a98bbf;"></div>
<div style="left:194.90px;top:754.52px;width:1.30px;height:5.80px;background:#3a4f70;"></div>
<div style="left:177.20px;top:760.52px;width:2.10px;height:2.10px;background:#000;border-radius:50%;"></div>
<div style="left:226.00px;top:752.62px;width:30.20px;height:11.60px;background:#3a92d2;"></div>
<div class="t" style="left:241.10px;top:752.94px;font-size:8.6px;color:#fff;font-weight:700;transform:translateX(-50%);transform-origin:0 0;letter-spacing:0.15px;">27%</div>
<div class="t" style="left:277.20px;top:753.90px;font-size:8.2px;color:#22305a;font-weight:700;transform:translateX(-50%);transform-origin:0 0;letter-spacing:0.25px;">42%</div>
<div style="left:262.00px;top:763.12px;width:30.50px;height:1.90px;background:#243f72;"></div>
<div class="t" style="left:17.00px;top:773.44px;font-size:8.8px;color:#939393;font-weight:400;transform:scaleX(0.878);transform-origin:0 0;">Accounting, Bookkeeping and Payroll</div>
<div class="t" style="left:17.00px;top:785.74px;font-size:8.8px;color:#939393;font-weight:400;transform:scaleX(0.878);transform-origin:0 0;">Clerks</div>
<div style="left:174.50px;top:780.20px;width:43.00px;height:5.80px;background:#f1f1f1;"></div>
<div style="left:171.20px;top:779.20px;width:1.10px;height:7.80px;background:#666;"></div>
<div style="left:219.00px;top:779.20px;width:1.10px;height:7.80px;background:#666;"></div>
<div style="left:182.20px;top:780.20px;width:13.30px;height:5.80px;background:#a98bbf;"></div>
<div style="left:194.90px;top:780.20px;width:1.30px;height:5.80px;background:#3a4f70;"></div>
<div style="left:181.20px;top:786.20px;width:2.10px;height:2.10px;background:#000;border-radius:50%;"></div>
<div style="left:226.00px;top:778.30px;width:30.20px;height:11.60px;background:#2b70b2;"></div>
<div class="t" style="left:241.10px;top:778.62px;font-size:8.6px;color:#fff;font-weight:700;transform:translateX(-50%);transform-origin:0 0;letter-spacing:0.15px;">34%</div>
<div class="t" style="left:277.20px;top:779.58px;font-size:8.2px;color:#22305a;font-weight:700;transform:translateX(-50%);transform-origin:0 0;letter-spacing:0.25px;">29%</div>
<div style="left:262.00px;top:788.80px;width:30.50px;height:1.90px;background:#4a90cc;"></div>
<div class="t" style="left:17.00px;top:805.42px;font-size:8.8px;color:#939393;font-weight:400;transform:scaleX(0.878);transform-origin:0 0;">Accountants and Auditors</div>
<div style="left:174.50px;top:805.88px;width:43.00px;height:5.80px;background:#f1f1f1;"></div>
<div style="left:171.20px;top:804.88px;width:1.10px;height:7.80px;background:#666;"></div>
<div style="left:219.00px;top:804.88px;width:1.10px;height:7.80px;background:#666;"></div>
<div style="left:178.20px;top:805.88px;width:17.30px;height:5.80px;background:#a98bbf;"></div>
<div style="left:194.90px;top:805.88px;width:1.30px;height:5.80px;background:#3a4f70;"></div>
<div style="left:191.00px;top:811.88px;width:2.10px;height:2.10px;background:#000;border-radius:50%;"></div>
<div style="left:226.00px;top:803.98px;width:30.20px;height:11.60px;background:#1e4a84;"></div>
<div class="t" style="left:241.10px;top:804.30px;font-size:8.6px;color:#fff;font-weight:700;transform:translateX(-50%);transform-origin:0 0;letter-spacing:0.15px;">43%</div>
<div class="t" style="left:277.20px;top:805.26px;font-size:8.2px;color:#22305a;font-weight:700;transform:translateX(-50%);transform-origin:0 0;letter-spacing:0.25px;">19%</div>
<div style="left:262.00px;top:814.48px;width:30.50px;height:1.90px;background:#62b2e2;"></div>
<div class="t" style="left:308.00px;top:439.28px;font-size:5.0px;color:#555;font-weight:400;">INDICATORS</div>
<div class="t" style="left:484.00px;top:439.32px;font-size:4.4px;color:#c2c2c2;font-weight:400;">0%</div>
<div class="t" style="right:43.30px;top:439.32px;font-size:4.4px;color:#c2c2c2;font-weight:400;">100%</div>
<div class="t" style="left:307.30px;top:455.79px;font-size:8.8px;color:#939393;font-weight:400;transform:scaleX(0.878);transform-origin:0 0;">Labour force participation</div>
<div style="left:484.00px;top:457.40px;width:70.50px;height:6.20px;background:#f4f4f4;"></div>
<div style="left:484.00px;top:457.40px;width:46.68px;height:6.20px;background:#a3cde6;"></div>
<div style="left:529.88px;top:457.40px;width:2.00px;height:6.20px;background:#3d5066;"></div>
<div style="left:555.90px;top:457.40px;width:1.50px;height:6.20px;background:#4a4a4a;"></div>
<div class="t" style="right:17.90px;top:455.32px;font-size:8.925px;color:#4a7b9e;font-weight:700;transform:scaleX(0.9524);transform-origin:100% 0;">63%</div>
<div class="t" style="left:307.30px;top:477.04px;font-size:8.8px;color:#939393;font-weight:400;transform:scaleX(0.878);transform-origin:0 0;">Vulnerable employment</div>
<div style="left:484.00px;top:478.80px;width:70.50px;height:6.20px;background:#f4f4f4;"></div>
<div style="left:484.00px;top:478.80px;width:20.29px;height:6.20px;background:#a3cde6;"></div>
<div style="left:503.49px;top:478.80px;width:2.00px;height:6.20px;background:#3d5066;"></div>
<div style="left:555.90px;top:478.80px;width:1.50px;height:6.20px;background:#4a4a4a;"></div>
<div class="t" style="right:17.90px;top:476.72px;font-size:8.925px;color:#4a7b9e;font-weight:700;transform:scaleX(0.9524);transform-origin:100% 0;">27%</div>
<div class="t" style="left:307.30px;top:492.04px;font-size:8.8px;color:#939393;font-weight:400;transform:scaleX(0.878);transform-origin:0 0;">Share of youth not in employment, education, or</div>
<div class="t" style="left:307.30px;top:504.54px;font-size:8.8px;color:#939393;font-weight:400;transform:scaleX(0.878);transform-origin:0 0;">training (NEET)</div>
<div style="left:484.00px;top:500.00px;width:70.50px;height:6.20px;background:#f4f4f4;"></div>
<div style="left:484.00px;top:500.00px;width:13.69px;height:6.20px;background:#a3cde6;"></div>
<div style="left:496.89px;top:500.00px;width:2.00px;height:6.20px;background:#3d5066;"></div>
<div style="left:555.90px;top:500.00px;width:1.50px;height:6.20px;background:#4a4a4a;"></div>
<div class="t" style="right:17.90px;top:497.92px;font-size:8.925px;color:#4a7b9e;font-weight:700;transform:scaleX(0.9524);transform-origin:100% 0;">18%</div>
<div class="t" style="left:307.30px;top:519.04px;font-size:8.8px;color:#939393;font-weight:400;transform:scaleX(0.878);transform-origin:0 0;">Unemployment rate</div>
<div style="left:484.00px;top:520.70px;width:70.50px;height:6.20px;background:#f4f4f4;"></div>
<div style="left:484.00px;top:520.70px;width:2.70px;height:6.20px;background:#a3cde6;"></div>
<div style="left:485.90px;top:520.70px;width:2.00px;height:6.20px;background:#3d5066;"></div>
<div style="left:555.90px;top:520.70px;width:1.50px;height:6.20px;background:#4a4a4a;"></div>
<div class="t" style="right:17.90px;top:518.62px;font-size:8.925px;color:#4a7b9e;font-weight:700;transform:scaleX(0.9524);transform-origin:100% 0;">3%</div>
<div class="t" style="left:307.30px;top:534.04px;font-size:8.8px;color:#939393;font-weight:400;transform:scaleX(0.878);transform-origin:0 0;">Unemployment rate among workers with basic</div>
<div class="t" style="left:307.30px;top:546.54px;font-size:8.8px;color:#939393;font-weight:400;transform:scaleX(0.878);transform-origin:0 0;">edu.</div>
<div style="left:484.00px;top:542.70px;width:70.50px;height:6.20px;background:#f4f4f4;"></div>
<div style="left:484.00px;top:542.70px;width:2.70px;height:6.20px;background:#a3cde6;"></div>
<div style="left:485.90px;top:542.70px;width:2.00px;height:6.20px;background:#3d5066;"></div>
<div style="left:555.90px;top:542.70px;width:1.50px;height:6.20px;background:#4a4a4a;"></div>
<div class="t" style="right:17.90px;top:540.62px;font-size:8.925px;color:#4a7b9e;font-weight:700;transform:scaleX(0.9524);transform-origin:100% 0;">3%</div>
<div class="t" style="left:307.30px;top:555.04px;font-size:8.8px;color:#939393;font-weight:400;transform:scaleX(0.878);transform-origin:0 0;">Unemployment rate among workers with</div>
<div class="t" style="left:307.30px;top:567.54px;font-size:8.8px;color:#939393;font-weight:400;transform:scaleX(0.878);transform-origin:0 0;">advanced edu.</div>
<div style="left:484.00px;top:563.30px;width:70.50px;height:6.20px;background:#f4f4f4;"></div>
<div style="left:484.00px;top:563.30px;width:3.43px;height:6.20px;background:#a3cde6;"></div>
<div style="left:486.63px;top:563.30px;width:2.00px;height:6.20px;background:#3d5066;"></div>
<div style="left:555.90px;top:563.30px;width:1.50px;height:6.20px;background:#4a4a4a;"></div>
<div class="t" style="right:17.90px;top:561.22px;font-size:8.925px;color:#4a7b9e;font-weight:700;transform:scaleX(0.9524);transform-origin:100% 0;">4%</div>
<div class="t" style="left:307.30px;top:582.54px;font-size:8.8px;color:#939393;font-weight:400;transform:scaleX(0.878);transform-origin:0 0;">Secondary Education Attainment</div>
<div style="left:484.00px;top:585.00px;width:70.50px;height:6.20px;background:#f4f4f4;"></div>
<div style="left:484.00px;top:585.00px;width:29.09px;height:6.20px;background:#a3cde6;"></div>
<div style="left:512.29px;top:585.00px;width:2.00px;height:6.20px;background:#3d5066;"></div>
<div style="left:555.90px;top:585.00px;width:1.50px;height:6.20px;background:#4a4a4a;"></div>
<div class="t" style="right:17.90px;top:582.92px;font-size:8.925px;color:#4a7b9e;font-weight:700;transform:scaleX(0.9524);transform-origin:100% 0;">39%</div>
<div class="t" style="left:307.30px;top:603.29px;font-size:8.8px;color:#939393;font-weight:400;transform:scaleX(0.878);transform-origin:0 0;">Tertiary Education Attainment</div>
<div style="left:484.00px;top:605.10px;width:70.50px;height:6.20px;background:#f4f4f4;"></div>
<div style="left:484.00px;top:605.10px;width:14.43px;height:6.20px;background:#a3cde6;"></div>
<div style="left:497.63px;top:605.10px;width:2.00px;height:6.20px;background:#3d5066;"></div>
<div style="left:555.90px;top:605.10px;width:1.50px;height:6.20px;background:#4a4a4a;"></div>
<div class="t" style="right:17.90px;top:603.02px;font-size:8.925px;color:#4a7b9e;font-weight:700;transform:scaleX(0.9524);transform-origin:100% 0;">19%</div>
<div class="t" style="left:307.30px;top:629.54px;font-size:8.8px;color:#939393;font-weight:400;transform:scaleX(0.878);transform-origin:0 0;">Ease of finding skilled employees in local labour market</div>
<div class="t" style="left:307.30px;top:639.89px;font-size:5.65px;color:#b5b5b5;font-weight:400;transform:scaleX(0.8850);transform-origin:0 0;">1=Companies cannot easily find skilled employees, 7=Companies can easily find skilled employees</div>
<div class="t" style="right:17.60px;top:633.41px;font-size:8.715px;color:#4a7b9e;font-weight:700;transform:scaleX(0.9524);transform-origin:100% 0;">4.47</div>
<div class="t" style="left:307.30px;top:656.54px;font-size:8.8px;color:#939393;font-weight:400;transform:scaleX(0.878);transform-origin:0 0;">Fill vacancies by hiring foreign labour</div>
<div class="t" style="left:307.30px;top:666.89px;font-size:5.65px;color:#b5b5b5;font-weight:400;transform:scaleX(0.8850);transform-origin:0 0;">1=Companies cannot fill vacancies by hiring foreign labour, 7=Companies can fill vacancies by hiring foreign</div>
<div class="t" style="left:307.30px;top:673.69px;font-size:5.65px;color:#b5b5b5;font-weight:400;transform:scaleX(0.8850);transform-origin:0 0;">labour</div>
<div class="t" style="right:17.60px;top:663.31px;font-size:8.715px;color:#4a7b9e;font-weight:700;transform:scaleX(0.9524);transform-origin:100% 0;">3.64</div>
<div class="t" style="left:307.30px;top:689.54px;font-size:8.8px;color:#939393;font-weight:400;transform:scaleX(0.878);transform-origin:0 0;">Country investment in mid-career training</div>
<div class="t" style="left:307.30px;top:699.39px;font-size:5.65px;color:#b5b5b5;font-weight:400;transform:scaleX(0.8850);transform-origin:0 0;">1=Government does not invest in mid-career training, 7=Government invests in mid-career training</div>
<div class="t" style="right:17.60px;top:693.31px;font-size:8.715px;color:#4a7b9e;font-weight:700;transform:scaleX(0.9524);transform-origin:100% 0;">2.39</div>
<div class="t" style="left:307.30px;top:719.54px;font-size:8.8px;color:#939393;font-weight:400;transform:scaleX(0.878);transform-origin:0 0;">Workers’ Rights Index</div>
<div class="t" style="left:307.30px;top:729.89px;font-size:5.65px;color:#b5b5b5;font-weight:400;transform:scaleX(0.8850);transform-origin:0 0;">5=No guarantee of rights due to the breakdown of the rule of law, 1=Sporadic violations of rights</div>
<div class="t" style="right:17.60px;top:723.41px;font-size:8.715px;color:#4a7b9e;font-weight:700;transform:scaleX(0.9524);transform-origin:100% 0;">3</div>
<div class="t" style="left:307.30px;top:747.04px;font-size:8.8px;color:#939393;font-weight:400;transform:scaleX(0.878);transform-origin:0 0;">Level of National Compliance with Labour Rights</div>
<div class="t" style="left:307.30px;top:756.19px;font-size:5.65px;color:#b5b5b5;font-weight:400;transform:scaleX(0.8850);transform-origin:0 0;">10=The worst possible score, lower levels of compliance, 0=The best possible score, higher levels of</div>
<div class="t" style="left:307.30px;top:762.99px;font-size:5.65px;color:#b5b5b5;font-weight:400;transform:scaleX(0.8850);transform-origin:0 0;">compliance</div>
<div class="t" style="right:17.60px;top:754.11px;font-size:8.715px;color:#4a7b9e;font-weight:700;transform:scaleX(0.9524);transform-origin:100% 0;">2</div>
</body></html>
